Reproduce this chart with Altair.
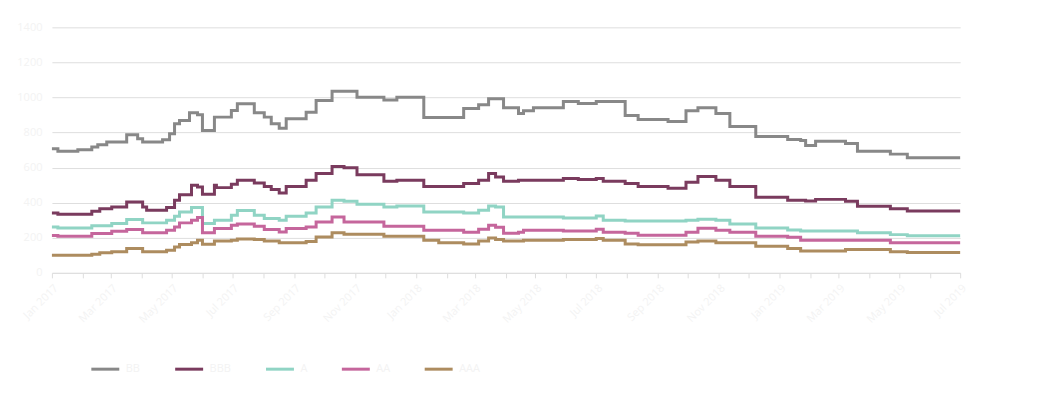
import altair as alt
import pandas as pd

# day offsets from 2017-01-01 at which the step values change
day_offsets = [0, 6, 26, 36, 40, 46, 48, 55, 60, 75, 86, 91, 95, 111, 115, 118, 123, 128, 138, 140,
               146, 151, 163, 165, 180, 186, 203, 213, 220, 228, 235, 255, 265, 281, 293, 306, 333, 346,
               373, 388, 413, 428, 438, 445, 453, 468, 473, 483, 513, 528, 546, 553, 575, 588, 618, 636,
               648, 666, 680, 706, 738, 751, 756, 766, 796, 808, 841, 858, 911]

bb = [708, 694, 702, 702, 717, 731, 731, 746, 746, 788, 765, 746, 746, 759, 759, 793, 850, 869, 913, 913,
      901, 812, 888, 888, 926, 964, 913, 888, 850, 825, 879, 916, 983, 1036, 1036, 1002, 985, 1002,
      886, 886, 937, 959, 993, 993, 942, 908, 925, 942, 977, 965, 977, 977, 897, 874, 863, 925,
      942, 908, 835, 778, 760, 755, 726, 750, 737, 693, 677, 657, 657]

bbb = [341, 334, 334, 334, 351, 351, 366, 366, 376, 404, 404, 376, 357, 357, 372, 372, 414, 446, 446, 499,
       490, 448, 499, 486, 505, 528, 512, 493, 475, 455, 493, 528, 566, 607, 600, 560, 522, 528,
       493, 493, 510, 528, 566, 547, 522, 528, 528, 528, 538, 533, 538, 522, 510, 493, 482, 516,
       550, 528, 493, 431, 414, 414, 410, 419, 408, 380, 366, 353, 353]

a = [262, 256, 256, 256, 268, 268, 268, 268, 281, 304, 304, 285, 285, 285, 300, 300, 323, 347, 347, 372,
     372, 282, 300, 300, 328, 355, 328, 310, 310, 300, 323, 341, 376, 414, 408, 391, 376, 381,
     347, 347, 341, 357, 381, 376, 319, 319, 319, 319, 313, 313, 324, 300, 295, 295, 295, 300,
     306, 300, 278, 256, 245, 239, 239, 239, 239, 228, 218, 211, 211]

aa = [213, 209, 209, 209, 224, 224, 224, 224, 237, 247, 247, 228, 228, 228, 243, 243, 262, 285, 285, 300,
      315, 228, 253, 253, 271, 278, 266, 247, 247, 233, 253, 262, 290, 319, 290, 290, 266, 266,
      243, 243, 232, 249, 271, 260, 226, 232, 243, 243, 238, 238, 249, 232, 226, 215, 215, 232,
      255, 243, 232, 209, 203, 186, 186, 186, 186, 186, 171, 171, 171]

aaa = [101, 101, 101, 101, 106, 106, 114, 114, 120, 139, 139, 120, 120, 120, 129, 129, 148, 162, 162, 171,
       186, 163, 182, 182, 186, 193, 190, 182, 182, 171, 171, 179, 205, 228, 220, 220, 209, 209,
       186, 171, 165, 182, 199, 190, 182, 182, 186, 186, 190, 190, 196, 186, 165, 160, 160, 176,
       182, 171, 171, 152, 139, 125, 125, 125, 133, 133, 120, 116, 116]

series_names = ["BB", "BBB", "A", "AA", "AAA"]
series_colors = ["#888888", "#7a3b5e", "#90d4c4", "#c5669c", "#ad8c5f"]
y_ticks = [0, 200, 400, 600, 800, 1000, 1200, 1400]

start = pd.Timestamp("2017-01-01")
dates = [start + pd.Timedelta(days=d) for d in day_offsets]
frames = []
for name, vals in zip(series_names, [bb, bbb, a, aa, aaa]):
    frames.append(pd.DataFrame({"date": dates, "value": vals, "series": name}))
df = pd.concat(frames, ignore_index=True)

faint = "#f3f3f3"
gridc = "#dedede"

chart = alt.Chart(df).mark_line(interpolate="step-after", strokeWidth=3).encode(
    x=alt.X("date:T", title=None,
            scale=alt.Scale(domain=["2017-01-01", "2019-07-01"], nice=False),
            axis=alt.Axis(format="%b %Y", tickCount={"interval": "month", "step": 1},
                          labelAngle=-45, labelColor=faint, labelFontSize=11,
                          domainColor=gridc, tickColor=gridc, tickSize=5, grid=False,
                          labelPadding=4)),
    y=alt.Y("value:Q", title=None,
            scale=alt.Scale(domain=[0, 1400], nice=False),
            axis=alt.Axis(values=y_ticks, format="d", labelColor=faint, labelFontSize=11,
                          domain=False, ticks=False, labelPadding=10, gridColor=gridc)),
    color=alt.Color("series:N", sort=series_names,
                    scale=alt.Scale(domain=series_names, range=series_colors),
                    legend=alt.Legend(title=None, orient="none", direction="horizontal",
                                      legendX=38, legendY=327, symbolType="stroke",
                                      symbolSize=784, symbolStrokeWidth=3,
                                      labelColor=faint, labelFontSize=11,
                                      gridAlign="none", columnPadding=28, labelOffset=5)),
).properties(
    width=910, height=246,
    autosize=alt.AutoSizeParams(type="none"),
    padding={"left": 44, "top": 19, "right": 80, "bottom": 115},
).configure(font="Open Sans", view=alt.ViewConfig(stroke="transparent", strokeWidth=0))

chart.save("out.html", embed_options={"renderer": "svg", "actions": False})
